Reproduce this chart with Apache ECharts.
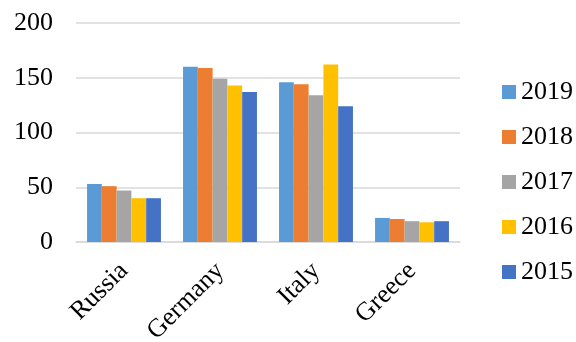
<!DOCTYPE html>
<html><head><meta charset="utf-8">
<script src="https://cdn.jsdelivr.net/npm/echarts@6/dist/echarts.min.js"></script>
<style>html,body{margin:0;padding:0;background:#fff}#c{width:576px;height:342px}</style>
</head><body><div id="c"></div>
<script>
const categories = ['Russia', 'Germany', 'Italy', 'Greece'];
const years = ['2019', '2018', '2017', '2016', '2015'];
const v2019 = [53, 160, 146, 22];
const v2018 = [51, 159, 144, 21];
const v2017 = [47, 149, 134, 19];
const v2016 = [40, 143, 162, 18];
const v2015 = [40, 137, 124, 19];
const yTicks = [0, 50, 100, 150, 200];
const colors = ['#5B9BD5', '#ED7D31', '#A5A5A5', '#FFC000', '#4472C4'];
const values = [v2019, v2018, v2017, v2016, v2015];
const font = 'Liberation Serif, Times New Roman, serif';
const chart = echarts.init(document.getElementById('c'));
chart.setOption({
  animation: false,
  color: colors,
  grid: {left: 76, right: 116, top: 23, bottom: 100, containLabel: false, outerBoundsMode: 'none'},
  legend: {
    orient: 'vertical', left: 497, top: 74,
    itemWidth: 14, itemHeight: 14, itemGap: 19,
    icon: 'rect',
    textStyle: {fontFamily: font, fontSize: 26, color: '#000', lineHeight: 26},
    data: years
  },
  xAxis: {
    type: 'category', data: categories,
    axisLine: {show: true, lineStyle: {color: '#D9D9D9', width: 1.5}},
    axisTick: {show: false},
    axisLabel: {rotate: 45, fontFamily: font, fontSize: 26, color: '#000', margin: 25}
  },
  yAxis: {
    type: 'value', min: yTicks[0], max: yTicks[yTicks.length-1], interval: 50,
    axisLine: {show: false}, axisTick: {show: false},
    splitLine: {lineStyle: {color: '#D9D9D9', width: 1.5}},
    axisLabel: {fontFamily: font, fontSize: 26, color: '#000', margin: 23}
  },
  series: years.map((y, i) => ({
    name: y, type: 'bar', data: values[i],
    barGap: '0%', barCategoryGap: '23%'
  }))
});
</script></body></html>
